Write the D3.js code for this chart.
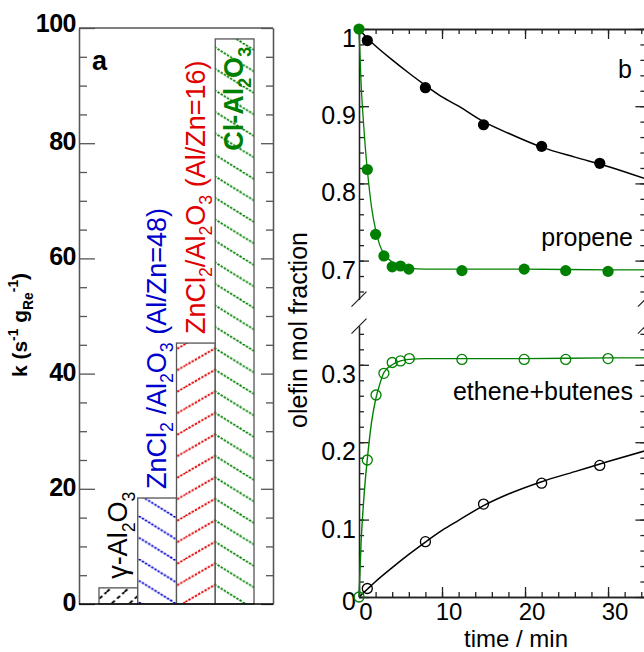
<!DOCTYPE html>
<html><head><meta charset="utf-8">
<script src="https://cdn.jsdelivr.net/npm/d3@7"></script>
<style>body{margin:0;background:#fff} svg{display:block} text{font-family:"Liberation Sans",Arial,Helvetica,sans-serif}</style>
</head><body><svg id="c" width="644" height="652"></svg>
<script>
// ---------- Panel a data ----------
const catalysts = ["γ-Al2O3", "ZnCl2 /Al2O3 (Al/Zn=48)", "ZnCl2/Al2O3 (Al/Zn=16)", "Cl-Al2O3"];
const rateK = [2.8, 18.4, 45.3, 98.1];
const kTicks = [0, 20, 40, 60, 80, 100];
const kMinor = [5, 10, 15, 25, 30, 35, 45, 50, 55, 65, 70, 75, 85, 90, 95];
// ---------- Panel b data ----------
const tGreen = [0, 1, 2, 3, 4, 5, 6, 12.4, 19.9, 24.9, 30];
const propeneGreen = [1.0, 0.818, 0.734, 0.706, 0.692, 0.693, 0.689, 0.687, 0.689, 0.687, 0.686];
const tGreenOpen = [0, 1, 2.05, 3, 4, 5, 6.06, 12.4, 19.9, 24.9, 30];
const othersGreen = [0, 0.177, 0.261, 0.289, 0.303, 0.305, 0.308, 0.307, 0.307, 0.307, 0.308];
const tBlack = [1, 8, 15, 22, 29];
const propeneBlack = [0.985, 0.924, 0.876, 0.848, 0.826];
const othersBlack = [0.011, 0.0715, 0.12, 0.147, 0.170];
// fitted curves
const fitTGreen = [0, 0.25, 0.5, 0.75, 1, 1.5, 2, 2.5, 3, 4, 5, 6, 8, 12, 20, 30, 34.5];
const fitPropeneGreen = [1.0, 0.93, 0.885, 0.848, 0.818, 0.77, 0.74, 0.72, 0.709, 0.698, 0.692, 0.69, 0.689, 0.689, 0.689, 0.688, 0.688];
const fitOthersGreen = [0, 0.07, 0.115, 0.15, 0.178, 0.225, 0.255, 0.275, 0.29, 0.3, 0.305, 0.307, 0.308, 0.308, 0.308, 0.309, 0.309];
const fitTBlack = [0, 1, 2, 4, 6, 8, 10, 12, 15, 18, 22, 26, 30, 34.5];
const fitPropeneBlack = [1.0, 0.988, 0.978, 0.96, 0.943, 0.927, 0.912, 0.9, 0.88, 0.865, 0.847, 0.834, 0.822, 0.806];
const fitOthersBlack = [0, 0.01, 0.02, 0.038, 0.055, 0.071, 0.086, 0.099, 0.118, 0.133, 0.149, 0.162, 0.175, 0.189];
const timeTicks = [0, 10, 20, 30];
const upperTicks = [0.7, 0.8, 0.9, 1.0];
const lowerTicks = [0, 0.1, 0.2, 0.3];

// ---------- styles ----------
const GREEN = "#008000", BLUE = "#0000cc", RED = "#e00000";
const barStyle = [
  {color: "#000", dir: "/", h: 16, slope: 0.9, dash: "4,3", bold: false},
  {color: BLUE, dir: "\\", h: 21.5, slope: 0.62, dash: "2.4,1.3", bold: false},
  {color: RED, dir: "/", h: 21.5, slope: 0.58, dash: "2.4,1.3", bold: false},
  {color: GREEN, dir: "\\", h: 21.5, slope: 0.62, dash: "2.4,1.3", bold: true}
];
const labelParts = [
  [["γ-Al", 0], ["2", -1], ["O", 0], ["3", -1]],
  [["ZnCl", 0], ["2", -1], [" /Al", 0], ["2", -1], ["O", 0], ["3", -1], [" (Al/Zn=48)", 0]],
  [["ZnCl", 0], ["2", -1], ["/Al", 0], ["2", -1], ["O", 0], ["3", -1], [" (Al/Zn=16)", 0]],
  [["Cl-Al", 0], ["2", -1], ["O", 0], ["3", -1]]
];

const svg = d3.select("#c");
const defs = svg.append("defs");

function rich(parent, parts, fs) {
  const t = parent.append("text").attr("font-size", fs);
  let cur = 0;
  parts.forEach(([s, k]) => {
    const off = k < 0 ? fs * 0.28 : k > 0 ? -fs * 0.42 : 0;
    t.append("tspan").attr("dy", off - cur).attr("font-size", k ? fs * 0.66 : fs).text(s);
    cur = off;
  });
  return t;
}

function hatch(id, st) {
  const h = st.h, w = h / st.slope;
  const p = defs.append("pattern").attr("id", id).attr("patternUnits", "userSpaceOnUse")
    .attr("width", w).attr("height", h);
  let d = "";
  [-w, 0, w].forEach(o => {
    d += st.dir === "/" ? `M${o},${h}L${o + w},0` : `M${o},0L${o + w},${h}`;
  });
  p.append("path").attr("d", d).attr("stroke", st.color).attr("stroke-width", 1.9)
    .attr("stroke-dasharray", st.dash).attr("fill", "none");
}

// ================= Panel a =================
const A = {l: 79, r: 273, t: 28, b: 604};
const ya = d3.scaleLinear([0, 100], [A.b, A.t]);
const xa = d3.scaleBand(catalysts, [99, 254]).paddingInner(0).paddingOuter(0);
barStyle.forEach((st, i) => hatch("h" + i, st));

const ga = svg.append("g");
const bars = ga.selectAll("g.bar").data(catalysts).join("g");
bars.append("rect").attr("x", d => xa(d)).attr("width", xa.bandwidth())
  .attr("y", (d, i) => ya(rateK[i])).attr("height", (d, i) => A.b - ya(rateK[i]))
  .attr("fill", "#fff");
bars.append("rect").attr("x", d => xa(d)).attr("width", xa.bandwidth())
  .attr("y", (d, i) => ya(rateK[i])).attr("height", (d, i) => A.b - ya(rateK[i]))
  .attr("fill", (d, i) => `url(#h${i})`).attr("stroke", "#555").attr("stroke-width", 1.3);

function styleAxis(g, col, w) {
  g.selectAll("path,line").attr("stroke", col).attr("stroke-width", w);
  g.selectAll("text").remove();
  return g;
}
styleAxis(ga.append("g").attr("transform", `translate(${A.l},0)`)
  .call(d3.axisLeft(ya).tickValues(kTicks).tickSize(-16).tickSizeOuter(0)), "#555", 1.3);
styleAxis(ga.append("g").attr("transform", `translate(${A.l},0)`)
  .call(d3.axisLeft(ya).tickValues(kMinor).tickSize(-8).tickSizeOuter(0)), "#555", 1.3);
styleAxis(ga.append("g").attr("transform", `translate(${A.r},0)`)
  .call(d3.axisRight(ya).tickValues(kTicks).tickSize(-12).tickSizeOuter(0)), "#555", 1.3);
styleAxis(ga.append("g").attr("transform", `translate(${A.r},0)`)
  .call(d3.axisRight(ya).tickValues(kMinor).tickSize(-7).tickSizeOuter(0)), "#555", 1.3);
ga.append("line").attr("x1", A.l).attr("x2", A.r).attr("y1", A.t).attr("y2", A.t).attr("stroke", "#555").attr("stroke-width", 1.3);
ga.append("line").attr("x1", A.l).attr("x2", A.r).attr("y1", A.b).attr("y2", A.b).attr("stroke", "#000").attr("stroke-width", 1.5);

ga.selectAll("text.kt").data(kTicks).join("text").attr("class", "kt")
  .attr("x", 76).attr("y", d => ya(d) + (d === 100 ? 4 : 7)).attr("text-anchor", "end")
  .attr("font-size", 25).attr("font-weight", "bold").attr("letter-spacing", -0.5).text(d => d);

catalysts.forEach((c, i) => {
  const st = barStyle[i];
  const x = xa(c) + 28;
  const last = i === catalysts.length - 1;
  const y = last ? ya(rateK[i]) + 8 : ya(rateK[i]) - 9;
  const g = ga.append("g").attr("transform", `translate(${x},${y}) rotate(-90)`);
  rich(g, labelParts[i], 27).attr("fill", st.color).attr("text-anchor", last ? "end" : "start")
    .attr("font-weight", st.bold ? "bold" : "normal");
});

ga.append("text").attr("x", 92).attr("y", 70).attr("font-size", 27).attr("font-weight", "bold").text("a");
const yla = ga.append("g").attr("transform", `translate(27,325) rotate(-90)`);
rich(yla, [["k (s", 0], ["-1", 1], [" g", 0], ["Re", -1], ["-1", 1], [")", 0]], 21)
  .attr("text-anchor", "middle").attr("font-weight", "bold");

// ================= Panel b =================
const B = {l: 359, r: 645.4, t: 29, b: 597};
const xb = d3.scaleLinear([0, 34.5], [B.l, B.r]);
const yU = d3.scaleLinear([0.65, 1.0], [299.2, B.t]);
const yL = d3.scaleLinear([0, 0.35], [B.b, 326.1]);
const gb = svg.append("g");
const AX = "#222";
const minorT = d3.range(0, 18).map(i => i * 2);
const minorU = d3.range(33, 51).map(i => +(i * 0.02).toFixed(2));
const minorL = d3.range(0, 18).map(i => +(i * 0.02).toFixed(2));

function ax(axis, tx, ty) {
  return styleAxis(gb.append("g").attr("transform", `translate(${tx},${ty})`).call(axis), AX, 1.3);
}
ax(d3.axisBottom(xb).tickValues(timeTicks).tickSize(-10).tickSizeOuter(0), 0, B.b);
ax(d3.axisBottom(xb).tickValues(minorT).tickSize(-5).tickSizeOuter(0), 0, B.b);
ax(d3.axisTop(xb).tickValues(timeTicks).tickSize(-10).tickSizeOuter(0), 0, B.t);
ax(d3.axisTop(xb).tickValues(minorT).tickSize(-5).tickSizeOuter(0), 0, B.t);
[[yU, upperTicks, minorU], [yL, lowerTicks, minorL]].forEach(([s, mj, mn]) => {
  ax(d3.axisLeft(s).tickValues(mj).tickSize(-10).tickSizeOuter(0), B.l, 0);
  ax(d3.axisLeft(s).tickValues(mn).tickSize(-5).tickSizeOuter(0), B.l, 0);
  ax(d3.axisRight(s).tickValues(mj).tickSize(-10).tickSizeOuter(0), B.r, 0);
  ax(d3.axisRight(s).tickValues(mn).tickSize(-5).tickSizeOuter(0), B.r, 0);
});
[B.l, B.r].forEach(x => [yU(0.65), yL(0.35)].forEach(y => {
  gb.append("line").attr("x1", x - 7.5).attr("y1", y + 7.5).attr("x2", x + 7.5).attr("y2", y - 7.5)
    .attr("stroke", AX).attr("stroke-width", 1.2);
}));

gb.selectAll("text.xt").data(timeTicks).join("text").attr("class", "xt")
  .attr("x", d => xb(d) + 7).attr("y", 620).attr("text-anchor", "middle").attr("font-size", 24).text(d => d);
gb.selectAll("text.yu").data(upperTicks).join("text").attr("class", "yu")
  .attr("x", 356).attr("y", d => yU(d) + 18).attr("text-anchor", "end").attr("font-size", 25)
  .text(d => d === 1 ? "1" : d3.format(".1f")(d));
gb.selectAll("text.yl").data(lowerTicks).join("text").attr("class", "yl")
  .attr("x", 356).attr("y", d => Math.min(yL(d) + 18, B.b + 13)).attr("text-anchor", "end").attr("font-size", 25)
  .text(d => d === 0 ? "0" : d3.format(".1f")(d));

const clip = defs.append("clipPath").attr("id", "clipb");
clip.append("rect").attr("x", B.l - 8).attr("y", 0).attr("width", B.r - B.l + 8).attr("height", 652);
const gd = gb.append("g").attr("clip-path", "url(#clipb)");
const lineU = d3.line().x(d => xb(d[0])).y(d => yU(d[1])).curve(d3.curveMonotoneX);
const lineL = d3.line().x(d => xb(d[0])).y(d => yL(d[1])).curve(d3.curveMonotoneX);
gd.append("path").attr("d", lineU(d3.zip(fitTBlack, fitPropeneBlack))).attr("fill", "none").attr("stroke", "#000").attr("stroke-width", 1.5);
gd.append("path").attr("d", lineL(d3.zip(fitTBlack, fitOthersBlack))).attr("fill", "none").attr("stroke", "#000").attr("stroke-width", 1.5);
gd.append("path").attr("d", lineU(d3.zip(fitTGreen, fitPropeneGreen))).attr("fill", "none").attr("stroke", GREEN).attr("stroke-width", 1.3);
gd.append("path").attr("d", lineL(d3.zip(fitTGreen, fitOthersGreen))).attr("fill", "none").attr("stroke", GREEN).attr("stroke-width", 1.4);

gd.selectAll("circle.gf").data(d3.zip(tGreen, propeneGreen)).join("circle")
  .attr("cx", d => xb(d[0])).attr("cy", d => yU(d[1])).attr("r", 5.6).attr("fill", GREEN);
gd.selectAll("circle.bf").data(d3.zip(tBlack, propeneBlack)).join("circle")
  .attr("cx", d => xb(d[0])).attr("cy", d => yU(d[1])).attr("r", 5.6).attr("fill", "#000");
gd.selectAll("circle.go").data(d3.zip(tGreenOpen, othersGreen)).join("circle")
  .attr("cx", d => xb(d[0])).attr("cy", d => yL(d[1])).attr("r", 5).attr("fill", "none").attr("stroke", GREEN).attr("stroke-width", 1.3);
gd.selectAll("circle.bo").data(d3.zip(tBlack, othersBlack)).join("circle")
  .attr("cx", d => xb(d[0])).attr("cy", d => yL(d[1])).attr("r", 5).attr("fill", "none").attr("stroke", "#000").attr("stroke-width", 1.3);

gb.append("text").attr("x", 633).attr("y", 246).attr("text-anchor", "end").attr("font-size", 25).text("propene");
gb.append("text").attr("x", 633).attr("y", 400).attr("text-anchor", "end").attr("font-size", 25).text("ethene+butenes");
gb.append("text").attr("x", 618).attr("y", 78).attr("font-size", 25).text("b");
gb.append("text").attr("x", 516).attr("y", 647).attr("text-anchor", "middle").attr("font-size", 24).text("time / min");
gb.append("text").attr("transform", "translate(307,330) rotate(-90)").attr("text-anchor", "middle").attr("font-size", 25).text("olefin mol fraction");
</script></body></html>
